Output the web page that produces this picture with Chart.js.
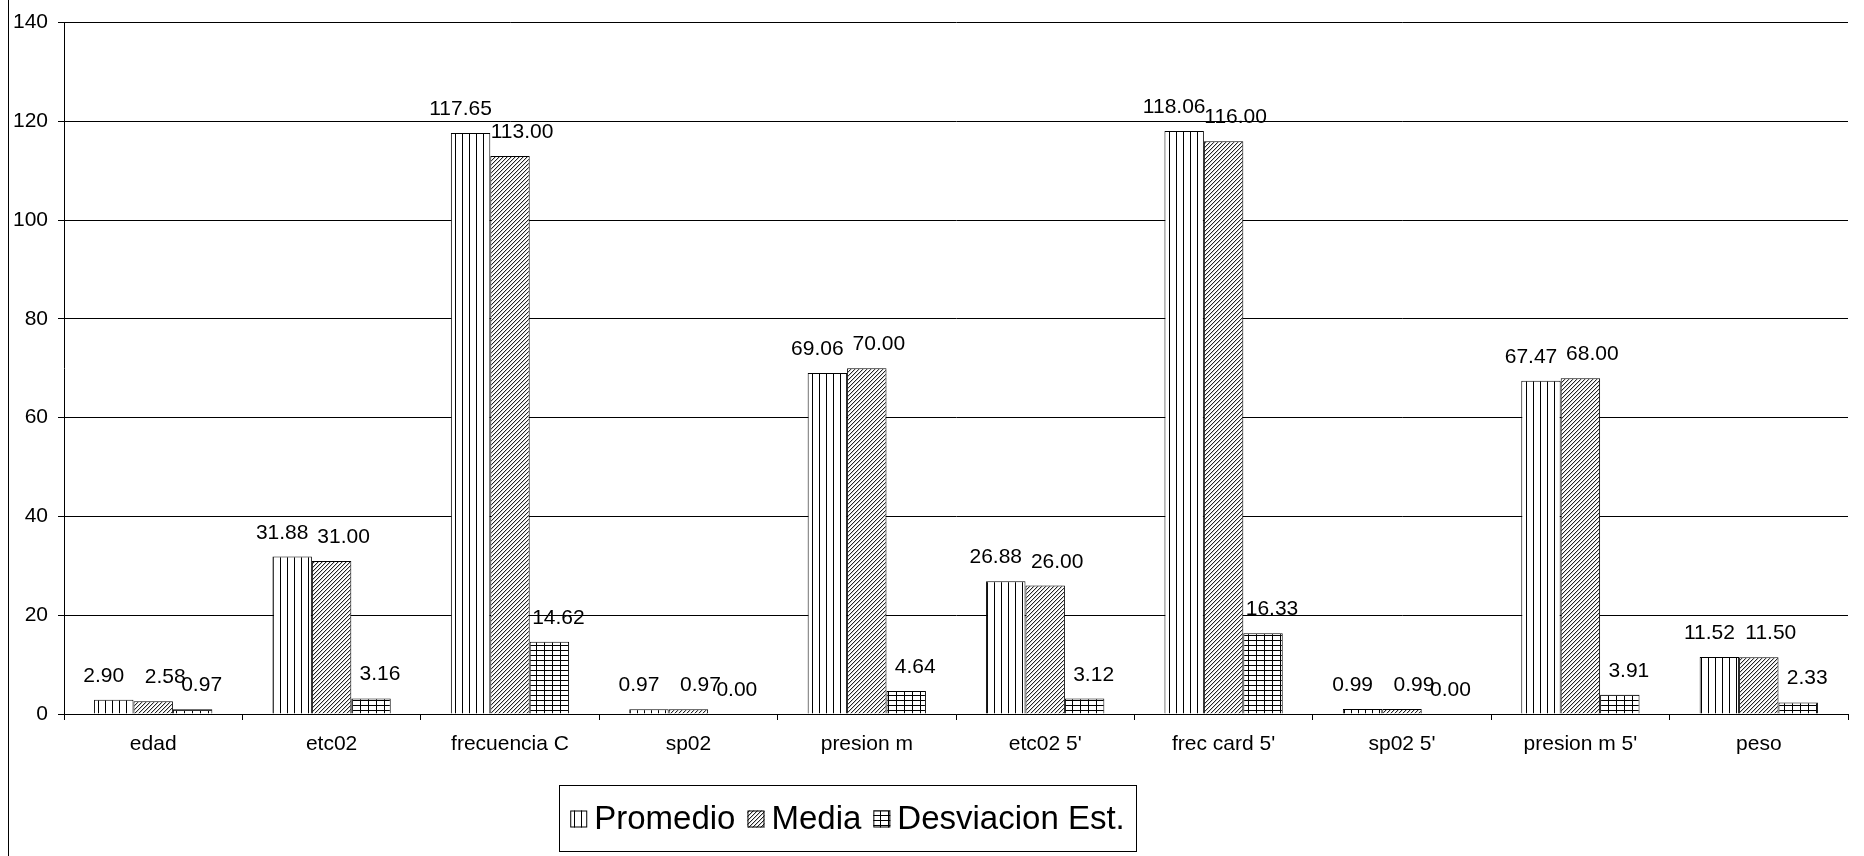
<!DOCTYPE html>
<html>
<head>
<meta charset="utf-8">
<script src="https://cdn.jsdelivr.net/npm/chart.js@4.4.1/dist/chart.umd.min.js"></script>
<style>
  html, body { margin: 0; padding: 0; background: #fff; }
  #wrap { position: relative; width: 1864px; height: 856px; }
</style>
</head>
<body>
<div id="wrap"><canvas id="chart"></canvas></div>
<script>
// values
const categories = ['edad', 'etc02', 'frecuencia C', 'sp02', 'presion m', "etc02 5'", "frec card 5'", "sp02 5'", "presion m 5'", 'peso'];
const promedio   = [2.90, 31.88, 117.65, 0.97, 69.06, 26.88, 118.06, 0.99, 67.47, 11.52];
const media      = [2.58, 31.00, 113.00, 0.97, 70.00, 26.00, 116.00, 0.99, 68.00, 11.50];
const desviacion = [0.97, 3.16, 14.62, 0.00, 4.64, 3.12, 16.33, 0.00, 3.91, 2.33];
const seriesNames = ['Promedio', 'Media', 'Desviacion Est.'];
const yMax = 140;
const yStep = 20;

const FONT = "'Liberation Sans', Arial, sans-serif";

// black & white fill patterns like the old Excel print styles
function makePattern(kind) {
  const c = document.createElement('canvas');
  const g = c.getContext('2d');
  if (kind === 'vertical') {
    c.width = 7; c.height = 7;
    g.fillStyle = '#fff'; g.fillRect(0, 0, 7, 7);
    g.fillStyle = '#000'; g.fillRect(0, 0, 1, 7);
  } else if (kind === 'diagonal') {
    c.width = 4; c.height = 4;
    g.fillStyle = '#fff'; g.fillRect(0, 0, 4, 4);
    for (let i = 0; i < 4; i++) {
      g.fillStyle = '#222'; g.fillRect(i, 3 - i, 1, 1);
      g.fillStyle = '#ccc'; g.fillRect((i + 1) % 4, 3 - i, 1, 1);
    }
  } else {
    c.width = 8; c.height = 5;
    g.fillStyle = '#fff'; g.fillRect(0, 0, 8, 5);
    g.fillStyle = '#000';
    g.fillRect(0, 0, 8, 1);
    g.fillRect(0, 0, 1, 5);
  }
  return g.createPattern(c, 'repeat');
}

const patterns = [makePattern('vertical'), makePattern('diagonal'), makePattern('grid')];
const labelShift = [-10, 12, 9];

// value labels above bars
const valueLabels = {
  id: 'valueLabels',
  afterDatasetsDraw(chart) {
    const ctx = chart.ctx;
    ctx.save();
    ctx.font = `21px ${FONT}`;
    ctx.fillStyle = '#000';
    ctx.textAlign = 'center';
    ctx.textBaseline = 'alphabetic';
    chart.data.datasets.forEach((ds, i) => {
      chart.getDatasetMeta(i).data.forEach((bar, j) => {
        ctx.fillText(Number(ds.data[j]).toFixed(2), bar.x + labelShift[i], bar.y - 18);
      });
    });
    ctx.restore();
  }
};

// boxed legend + left frame line
const boxLegend = {
  id: 'boxLegend',
  afterDraw(chart) {
    const ctx = chart.ctx;
    ctx.save();
    ctx.strokeStyle = '#000';
    ctx.lineWidth = 1;
    ctx.beginPath();
    ctx.moveTo(8.5, 0);
    ctx.lineTo(8.5, chart.height);
    ctx.stroke();

    const box = { x: 559, y: 785, w: 577, h: 66 };
    ctx.strokeRect(box.x + 0.5, box.y + 0.5, box.w, box.h);

    ctx.font = `33px ${FONT}`;
    const sw = 17, gapIcon = 7, gapItem = 12;
    const widths = seriesNames.map(n => ctx.measureText(n).width);
    const total = widths.reduce((s, w) => s + w + sw + gapIcon, 0) + gapItem * (seriesNames.length - 1);
    let x = box.x + (box.w - total) / 2;
    const cy = box.y + box.h / 2 + 1;
    ctx.textBaseline = 'middle';
    ctx.textAlign = 'left';
    seriesNames.forEach((n, i) => {
      ctx.fillStyle = patterns[i];
      ctx.fillRect(x, cy - sw / 2, sw, sw);
      ctx.strokeRect(x + 0.5, cy - sw / 2 + 0.5, sw - 1, sw - 1);
      ctx.fillStyle = '#000';
      ctx.fillText(n, x + sw + gapIcon, cy + 1);
      x += sw + gapIcon + widths[i] + gapItem;
    });
    ctx.restore();
  }
};

new Chart(document.getElementById('chart'), {
  type: 'bar',
  data: {
    labels: categories,
    datasets: [promedio, media, desviacion].map((d, i) => ({
      label: seriesNames[i],
      data: d,
      backgroundColor: patterns[i],
      borderColor: '#000',
      borderWidth: 1,
      categoryPercentage: 0.663,
      barPercentage: 1
    }))
  },
  options: {
    responsive: true,
    maintainAspectRatio: false,
    animation: false,
    layout: { padding: { top: 17, right: 16, left: 0, bottom: 0 } },
    plugins: {
      legend: { display: false },
      tooltip: { enabled: false }
    },
    scales: {
      x: {
        offset: true,
        grid: { display: true, drawOnChartArea: false, color: '#000', tickLength: 6 },
        border: { color: '#000' },
        ticks: { color: '#000', font: { family: FONT, size: 21 }, padding: 12, maxRotation: 0, autoSkip: false },
        afterFit(scale) { scale.height = 142; }
      },
      y: {
        min: 0,
        max: yMax,
        ticks: { stepSize: yStep, color: '#000', font: { family: FONT, size: 21 }, padding: 10 },
        grid: { color: '#000', tickLength: 6 },
        border: { color: '#000' },
        afterFit(scale) { scale.width = 64; }
      }
    }
  },
  plugins: [valueLabels, boxLegend]
});
</script>
</body>
</html>
